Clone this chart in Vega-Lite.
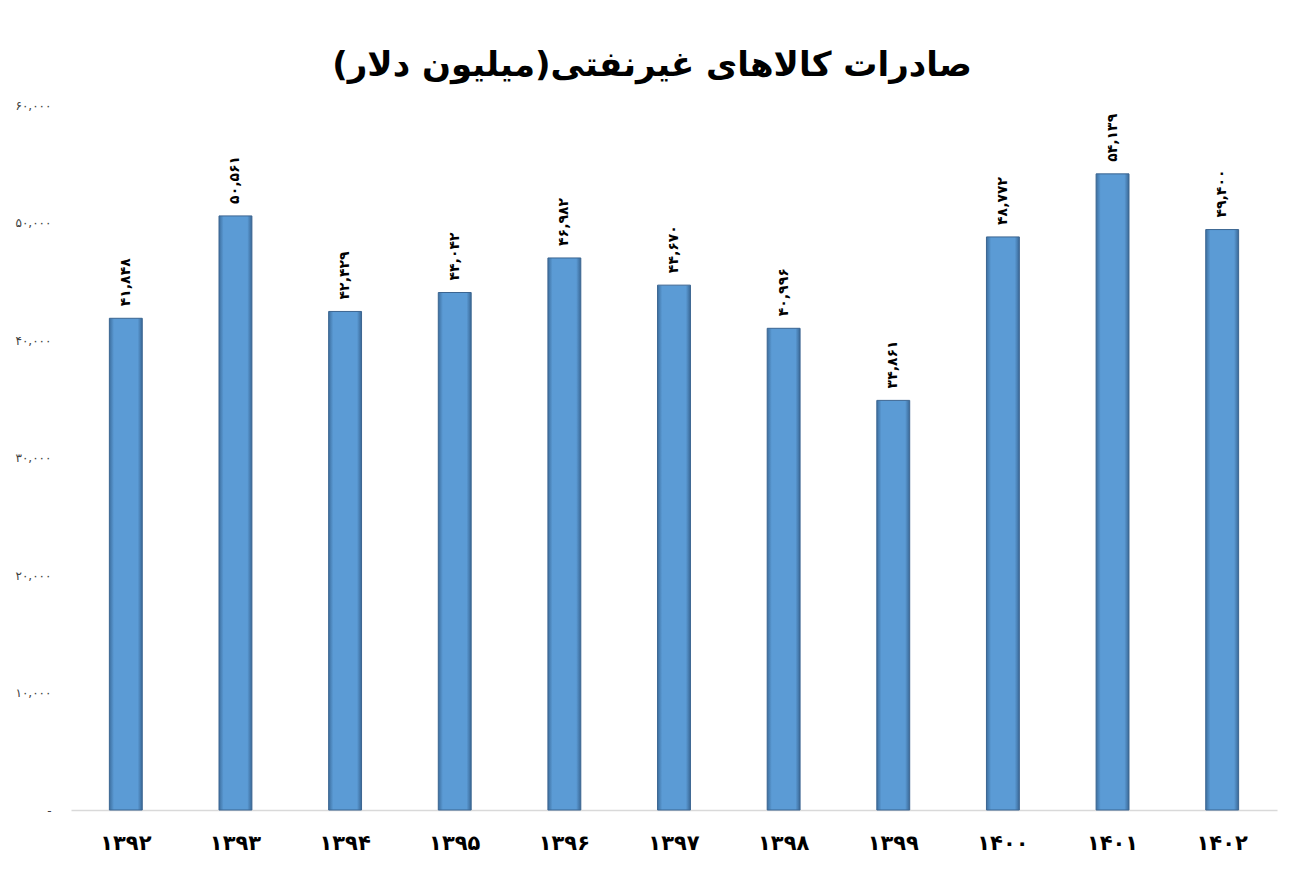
{
  "$schema": "https://vega.github.io/schema/vega-lite/v6.json",
  "width": 1206,
  "height": 705,
  "autosize": {"type": "none"},
  "padding": {"left": 71, "top": 105, "right": 28, "bottom": 65},
  "background": "white",
  "config": {
    "view": {"stroke": null},
    "font": "DejaVu Sans",
    "locale": {
      "number": {
        "decimal": ".",
        "thousands": ",",
        "grouping": [3],
        "currency": ["", ""],
        "numerals": ["۰", "۱", "۲", "۳", "۴", "۵", "۶", "۷", "۸", "۹"]
      }
    }
  },
  "title": {
    "text": "صادرات کالاهای غیرنفتی(میلیون دلار)",
    "font": "DejaVu Sans",
    "fontSize": 34,
    "fontWeight": "bold",
    "color": "#000000",
    "anchor": "middle",
    "dx": -22,
    "offset": 16
  },
  "data": {
    "values": [
      {"year": "۱۳۹۲", "value": 41848},
      {"year": "۱۳۹۳", "value": 50561},
      {"year": "۱۳۹۴", "value": 42429},
      {"year": "۱۳۹۵", "value": 44042},
      {"year": "۱۳۹۶", "value": 46982},
      {"year": "۱۳۹۷", "value": 44670},
      {"year": "۱۳۹۸", "value": 40996},
      {"year": "۱۳۹۹", "value": 34861},
      {"year": "۱۴۰۰", "value": 48772},
      {"year": "۱۴۰۱", "value": 54139},
      {"year": "۱۴۰۲", "value": 49400}
    ]
  },
  "encoding": {
    "x": {
      "field": "year",
      "type": "nominal",
      "sort": null,
      "scale": {"paddingInner": 0.7, "paddingOuter": 0.35},
      "axis": {
        "title": null,
        "labelAngle": 0,
        "labelFont": "DejaVu Sans",
        "labelFontSize": 21,
        "labelFontWeight": "bold",
        "labelColor": "#000000",
        "labelPadding": 22,
        "ticks": false,
        "domainColor": "#d9d9d9",
        "domainWidth": 1.5
      }
    },
    "y": {
      "field": "value",
      "type": "quantitative",
      "scale": {"domain": [0, 60000], "nice": false},
      "axis": {
        "title": null,
        "values": [0, 10000, 20000, 30000, 40000, 50000, 60000],
        "labelExpr": "datum.value === 0 ? '-' : format(datum.value, ',')",
        "labelFont": "DejaVu Sans",
        "labelFontSize": 12,
        "labelColor": "#404040",
        "labelPadding": 20,
        "ticks": false,
        "domain": false,
        "grid": false
      }
    }
  },
  "layer": [
    {
      "mark": {
        "type": "bar",
        "color": {
          "gradient": "linear",
          "x1": 0, "y1": 0, "x2": 1, "y2": 0,
          "stops": [
            {"offset": 0, "color": "#3d6f9f"},
            {"offset": 0.14, "color": "#5b9bd5"},
            {"offset": 0.86, "color": "#5b9bd5"},
            {"offset": 1, "color": "#3a6896"}
          ]
        },
        "stroke": "#3b6591",
        "strokeWidth": 1
      }
    },
    {
      "mark": {
        "type": "text",
        "angle": 270,
        "align": "left",
        "baseline": "middle",
        "dx": 12,
        "font": "DejaVu Sans",
        "fontSize": 14,
        "fontWeight": "bold",
        "color": "#000000"
      },
      "encoding": {
        "text": {"field": "value", "type": "quantitative", "format": ","}
      }
    }
  ]
}
